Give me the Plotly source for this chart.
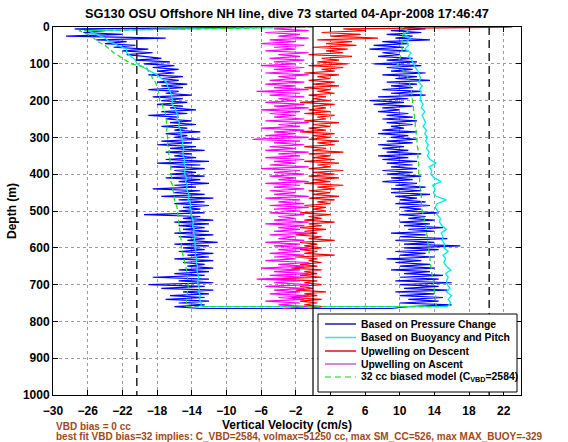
import plotly.graph_objects as go

# ---------------- data ----------------
DEPTH5 = list(range(0, 770, 5))     # 0..765 m, 154 samples
DEPTH10 = list(range(0, 770, 10))   # 0..760 m, 77 samples

BLUE_DIVE = [
    -2.0, -27.5, -24.0, -26.5, -22.0, -28.5, -17.0, -25.0, -21.5, -24.0,
    -20.5, -23.0, -19.0, -22.0, -18.5, -21.5, -19.5, -17.5, -20.5, -16.5,
    -19.5, -16.0, -18.5, -15.5, -18.0, -16.0, -19.0, -15.0, -17.5, -15.5,
    -18.0, -14.5, -17.5, -15.0, -19.0, -15.5, -17.0, -14.0, -18.5, -15.0,
    -17.5, -14.5, -18.0, -15.0, -16.5, -13.5, -17.5, -14.5, -19.0, -15.5,
    -17.0, -14.0, -16.5, -13.5, -17.5, -14.5, -16.0, -13.0, -17.0, -14.5,
    -16.0, -13.0, -17.5, -14.0, -18.0, -13.5, -16.5, -12.5, -17.0, -14.0,
    -16.0, -13.5, -17.0, -12.0, -18.0, -13.0, -16.5, -12.5, -16.0, -13.5,
    -16.5, -12.5, -17.0, -13.0, -15.5, -12.0, -16.0, -13.5, -18.5, -13.0,
    -16.0, -12.5, -17.5, -11.5, -15.5, -12.5, -16.0, -12.0, -15.0, -13.0,
    -15.5, -12.5, -19.5, -13.0, -15.0, -11.5, -16.0, -12.0, -15.5, -12.5,
    -15.0, -12.0, -16.0, -11.5, -15.5, -12.5, -14.5, -11.0, -16.0, -12.0,
    -15.0, -12.5, -15.5, -11.5, -14.5, -12.0, -16.0, -11.5, -15.0, -12.5,
    -14.5, -11.5, -15.5, -12.0, -16.0, -12.5, -18.5, -12.0, -15.5, -11.5,
    -19.0, -12.5, -17.5, -11.5, -15.0, -12.0, -16.5, -12.5, -17.0, -12.0,
    -15.5, -12.5, -16.0, -13.0,
]

BLUE_CLIMB = [
    10.5, 13.0, 9.0, 12.5, 8.5, 11.5, 9.5, 13.5, 8.0, 11.0,
    7.0, 10.5, 6.5, 11.0, 8.0, 10.0, 7.5, 11.5, 8.5, 12.0,
    7.0, 12.5, 8.5, 11.5, 9.0, 13.0, 8.0, 12.0, 9.5, 13.5,
    8.5, 12.0, 9.0, 11.5, 8.0, 12.5, 9.0, 13.0, 7.5, 11.0,
    6.5, 10.5, 7.0, 11.5, 8.0, 10.0, 7.5, 11.0, 8.5, 11.5,
    8.0, 12.0, 8.5, 11.5, 9.0, 10.5, 8.0, 12.0, 7.5, 11.0,
    9.0, 12.0, 8.5, 11.5, 7.5, 10.5, 8.0, 11.0, 8.5, 12.5,
    7.5, 11.0, 8.0, 12.0, 8.5, 11.5, 9.0, 12.0, 8.0, 11.5,
    8.5, 12.5, 9.0, 11.5, 8.0, 12.0, 9.5, 13.0, 9.0, 12.5,
    9.0, 13.5, 9.5, 12.0, 10.0, 13.0, 9.5, 13.5, 10.0, 12.5,
    10.5, 14.5, 10.0, 13.0, 11.0, 14.0, 10.0, 13.5, 10.5, 15.0,
    11.0, 14.0, 9.0, 13.0, 10.0, 15.5, 9.5, 14.0, 10.5, 17.0,
    10.5, 14.5, 9.5, 13.0, 10.0, 14.0, 8.5, 12.5, 9.5, 13.5,
    10.0, 14.0, 9.0, 13.5, 10.5, 15.0, 10.0, 14.5, 9.5, 16.0,
    10.0, 14.5, 10.5, 15.5, 9.5, 14.0, 10.0, 15.0, 11.0, 14.5,
    10.0, 16.0, 11.0, 9.0,
]

CYAN_DIVE = [
    0.0, -26.0, -25.0, -24.0, -23.5, -22.5, -21.5, -21.5, -21.0, -20.5,
    -20.3, -19.5, -18.8, -18.0, -17.5, -16.9, -16.8, -16.6, -16.4, -16.3,
    -16.2, -16.3, -15.9, -15.8, -15.6, -15.7, -15.4, -15.5, -15.3, -15.2,
    -15.2, -15.0, -15.1, -14.9, -15.0, -15.0, -14.8, -14.9, -14.7, -14.8,
    -14.8, -14.6, -14.7, -14.5, -14.6, -14.4, -14.3, -14.4, -14.1, -14.2,
    -14.0, -14.1, -13.9, -13.8, -13.9, -13.7, -13.8, -13.6, -13.7, -13.6,
    -13.6, -13.5, -13.6, -13.4, -13.5, -13.3, -13.4, -13.3, -13.2, -13.3,
    -13.3, -13.1, -13.2, -13.0, -13.1, -12.9, -12.9,
]

CYAN_CLIMB = [
    10.0, 11.0, 10.5, 11.2, 10.8, 11.0, 10.6, 11.3, 11.0, 11.4,
    11.6, 11.8, 12.1, 12.3, 12.4, 12.2, 12.6, 12.3, 12.5, 12.4,
    12.4, 12.7, 12.5, 12.9, 12.6, 12.8, 13.0, 12.7, 13.1, 12.9,
    13.2, 13.0, 13.3, 13.1, 13.4, 13.2, 13.5, 14.2, 13.4, 13.7,
    13.6, 14.0, 14.8, 13.8, 14.1, 13.9, 14.2, 15.4, 14.3, 14.1,
    14.4, 14.3, 14.7, 14.6, 14.9, 15.4, 14.8, 15.0, 14.9, 15.2,
    15.1, 15.6, 15.0, 15.3, 15.1, 15.4, 15.9, 15.3, 15.6, 15.4,
    15.5, 15.8, 15.4, 16.0, 15.6, 15.9, 15.5,
]

GREEN_DIVE = [
    0.0, -27.0, -26.0, -25.3, -24.8, -24.0, -23.5, -23.0, -22.3, -21.6,
    -21.0, -19.2, -19.0, -18.7, -18.5, -18.2, -18.0, -17.9, -17.8, -17.7,
    -17.7, -17.4, -17.3, -17.1, -17.0, -16.9, -16.9, -16.8, -16.9, -16.8,
    -16.8, -16.7, -16.8, -16.6, -16.6, -16.7, -16.5, -16.5, -16.4, -16.4,
    -16.4, -16.3, -16.4, -16.2, -16.2, -16.1, -16.0, -16.0, -15.8, -15.7,
    -15.6, -15.6, -15.5, -15.5, -15.4, -15.4, -15.3, -15.3, -15.2, -15.2,
    -15.2, -15.1, -15.0, -14.9, -14.8, -14.7, -14.6, -14.5, -14.5, -14.4,
    -14.4, -14.4, -14.5, -14.5, -14.6, -14.6, -14.6,
]

GREEN_CLIMB = [
    10.0, 10.5, 10.4, 10.3, 10.3, 10.2, 10.3, 10.2, 10.1, 9.9,
    9.7, 10.1, 10.5, 10.8, 11.0, 11.1, 11.2, 11.3, 11.4, 11.4,
    11.5, 11.5, 11.6, 11.6, 11.7, 11.7, 11.8, 11.8, 11.9, 11.9,
    12.0, 12.0, 12.0, 12.1, 12.1, 12.1, 12.1, 12.2, 12.2, 12.2,
    12.2, 12.3, 12.3, 12.3, 12.4, 12.4, 12.5, 12.5, 12.5, 12.6,
    12.6, 12.7, 12.8, 12.9, 13.0, 13.1, 13.1, 13.2, 13.2, 13.3,
    13.3, 13.4, 13.4, 13.5, 13.5, 13.6, 13.7, 13.7, 13.8, 13.9,
    13.9, 14.0, 14.0, 14.1, 14.1, 14.2, 14.2,
]

RED_DESCENT = [
    23.0, 3.5, 6.0, 1.0, 5.5, 2.0, 7.5, 0.5, 4.5, 1.5,
    5.0, 0.0, 4.0, 1.5, 3.5, -0.5, 4.5, 1.0, 3.0, 0.5,
    4.0, -0.5, 3.5, 1.0, 2.5, -1.0, 3.0, 0.5, 2.0, -0.5,
    2.5, 0.0, 3.0, -1.0, 2.0, 0.5, 2.5, -0.5, 1.5, 0.0,
    2.0, -1.5, 2.5, 0.0, 1.5, -0.5, 2.0, -1.0, 2.5, 0.5,
    1.5, -1.0, 3.0, 0.0, 2.0, -0.5, 1.5, -1.5, 2.5, 0.0,
    2.0, -0.5, 3.0, 0.5, 2.5, -1.0, 1.5, 0.0, 3.5, -0.5,
    2.0, 0.0, 2.5, -1.0, 3.0, 0.5, 2.0, -0.5, 3.5, 0.0,
    2.5, -0.5, 3.0, 0.0, 2.0, -1.0, 3.5, 0.5, 2.5, -0.5,
    2.0, 0.0, 3.0, -0.5, 2.5, 0.5, 2.0, -1.0, 1.5, 0.0,
    1.5, -1.5, 2.0, -0.5, 1.0, -1.0, 2.5, -0.5, 1.0, -1.5,
    1.5, -1.0, 0.5, -2.0, 1.0, -0.5, 2.5, -1.5, 0.5, -1.0,
    1.0, -1.5, 0.5, -1.0, 2.5, -2.0, 0.5, -0.5, 1.0, -1.5,
    0.5, -2.5, 1.0, -1.0, 0.5, -1.5, 1.0, -5.0, 0.5, -1.0,
    1.0, -1.5, 0.0, -2.0, 1.5, -1.0, 0.5, -2.5, 1.0, -1.5,
    0.5, -1.0, 1.0, -0.5,
]

MAGENTA_ASCENT = [
    -1.0, -4.5, -0.5, -5.5, -1.5, -4.0, -0.5, -5.0, -2.0, -6.0,
    -1.0, -4.5, -2.0, -5.5, -0.5, -4.0, -1.5, -5.0, -1.0, -4.5,
    -2.0, -6.0, -1.0, -4.5, -1.5, -5.5, -0.5, -4.0, -2.0, -5.0,
    -1.0, -5.5, -2.0, -4.5, -0.5, -6.5, -1.5, -5.0, -1.0, -4.0,
    -2.0, -5.5, -1.0, -4.5, -0.5, -6.0, -1.5, -5.0, -2.0, -4.5,
    -1.0, -5.5, -0.5, -4.0, -1.5, -6.0, -1.0, -4.5, -2.0, -5.5,
    -0.5, -7.0, -1.5, -4.5, -1.0, -5.0, -2.0, -5.5, -0.5, -4.0,
    -1.5, -5.5, -1.0, -4.5, -2.0, -5.0, -0.5, -6.0, -1.5, -4.5,
    -1.0, -5.0, -2.0, -4.0, -0.5, -5.5, -1.5, -4.5, -1.0, -5.0,
    -2.0, -4.5, -0.5, -5.5, -1.5, -4.0, -1.0, -5.0, -0.5, -4.5,
    -1.5, -5.0, -1.0, -4.0, -2.0, -4.5, -0.5, -5.5, -1.0, -4.0,
    -1.5, -4.5, -0.5, -5.0, -2.0, -4.0, -1.0, -5.5, -1.5, -4.5,
    -0.5, -4.0, -1.5, -5.0, -1.0, -4.5, -2.0, -5.5, -0.5, -4.0,
    -1.0, -6.0, -1.5, -4.5, -0.5, -5.0, -1.0, -6.5, -1.5, -4.5,
    -0.5, -5.5, -1.0, -4.5, -1.5, -5.0, -0.5, -4.0, -1.0, -5.5,
    -1.5, -4.0, -0.5, -3.5,
]

LIMIT_LINES = [-20.33, 20.33]     # dashed black reference lines
ZERO_LINE = 0.0
LINE_DEPTHS = [0, 1000]

X_TICKS = [-30, -26, -22, -18, -14, -10, -6, -2, 2, 6, 10, 14, 18, 22]
Y_TICKS = [0, 100, 200, 300, 400, 500, 600, 700, 800, 900, 1000]

NAMES = ["Based on Pressure Change", "Based on Buoyancy and Pitch",
         "Upwelling on Descent", "Upwelling on Ascent",
         "32 cc biased model (C<sub>VBD</sub>=2584)"]
COLORS = ["#0000ff", "#00e8e8", "#ff0000", "#ff00ff", "#22dd22"]
LEGEND_COLORS = ["#1c1ca8", "#40e0e0", "#e01010", "#c060d0", "#66dd66"]

TITLE = "SG130 OSU Offshore NH line, dive 73 started 04-Apr-2008 17:46:47"
NOTE1 = "VBD bias = 0 cc"
NOTE2 = "best fit VBD bias=32 implies: C_VBD=2584, volmax=51250 cc, max SM_CC=526, max MAX_BUOY=-329"

# ---------------- figure ----------------
FONT = "Liberation Sans, Arial, Helvetica, sans-serif"
W, H = 568, 442
L, R, T, B = 53, 521, 27, 395


def px_x(px):
    return (px - L) / (R - L)


def px_y(py):
    return (B - py) / (B - T)


fig = go.Figure()

fig.add_trace(go.Scatter(x=BLUE_DIVE + BLUE_CLIMB[::-1], y=DEPTH5 + DEPTH5[::-1],
                         mode="lines", name=NAMES[0],
                         line=dict(color=COLORS[0], width=1.2)))
fig.add_trace(go.Scatter(x=CYAN_DIVE + CYAN_CLIMB[::-1], y=DEPTH10 + DEPTH10[::-1],
                         mode="lines", name=NAMES[1],
                         line=dict(color=COLORS[1], width=1.3)))
fig.add_trace(go.Scatter(x=RED_DESCENT, y=DEPTH5, mode="lines", name=NAMES[2],
                         line=dict(color=COLORS[2], width=1.2)))
fig.add_trace(go.Scatter(x=MAGENTA_ASCENT[::-1], y=DEPTH5[::-1], mode="lines", name=NAMES[3],
                         line=dict(color=COLORS[3], width=1.2)))
fig.add_trace(go.Scatter(x=GREEN_DIVE + GREEN_CLIMB[::-1], y=DEPTH10 + DEPTH10[::-1],
                         mode="lines", name=NAMES[4],
                         line=dict(color=COLORS[4], width=1.3, dash="5px,3px")))

for v in LIMIT_LINES:
    fig.add_trace(go.Scatter(x=[v, v], y=LINE_DEPTHS, mode="lines",
                             line=dict(color="#222222", width=1.5, dash="8px,5px"),
                             hoverinfo="skip"))
fig.add_trace(go.Scatter(x=[ZERO_LINE, ZERO_LINE], y=LINE_DEPTHS, mode="lines",
                         line=dict(color="#000000", width=1.2),
                         hoverinfo="skip"))

for tr in fig.data:
    tr.showlegend = False

axis_common = dict(
    showline=True, linecolor="black", linewidth=1, mirror="allticks",
    ticks="inside", ticklen=5, tickcolor="black", tickwidth=1,
    showgrid=True, gridcolor="#9a9a9a", griddash="dot", gridwidth=1,
    zeroline=False, automargin=False,
    tickfont=dict(family=FONT, size=12, color="black", weight="bold"),
)

fig.update_layout(
    width=W, height=H,
    margin=dict(l=L, r=W - R, t=T, b=H - B, pad=0, autoexpand=False),
    paper_bgcolor="white", plot_bgcolor="white",
    showlegend=False,
    title=dict(text=TITLE, x=0.5, xref="paper", xanchor="center",
               y=1 - 14 / H, yref="container", yanchor="middle", automargin=False,
               font=dict(family=FONT, size=12.8, color="black", weight="bold")),
    xaxis=dict(range=[-30, 24], tickvals=X_TICKS, ticklabelstandoff=5,
               title=dict(text="Vertical Velocity (cm/s)", standoff=0,
                          font=dict(family=FONT, size=12, color="black", weight="bold")),
               **axis_common),
    yaxis=dict(range=[1000, 0], tickvals=Y_TICKS,
               title=dict(text="Depth (m)", standoff=3,
                          font=dict(family=FONT, size=12, color="black", weight="bold")),
               **axis_common),
)

# ---- legend drawn as a boxed key ----
shapes = [dict(type="rect", xref="paper", yref="paper",
               x0=px_x(318), x1=px_x(517), y0=px_y(392), y1=px_y(314),
               line=dict(color="black", width=1), fillcolor="white", layer="above")]
annots = []
rows = [324, 337.5, 351, 364, 377]
for i, (name, col) in enumerate(zip(NAMES, LEGEND_COLORS)):
    shapes.append(dict(type="line", xref="paper", yref="paper",
                       x0=px_x(325), x1=px_x(356), y0=px_y(rows[i]), y1=px_y(rows[i]),
                       line=dict(color=col, width=1.5,
                                 dash="6px,4px" if i == 4 else "solid"),
                       layer="above"))
    annots.append(dict(text=name, xref="paper", yref="paper",
                       x=px_x(359), y=px_y(rows[i]), xanchor="left", yanchor="middle",
                       showarrow=False,
                       font=dict(family=FONT, size=10.4, color="black", weight="bold")))

annots.append(dict(text=NOTE1, xref="paper", yref="paper",
                   x=px_x(54), y=px_y(426), xanchor="left", yanchor="middle",
                   showarrow=False,
                   font=dict(family=FONT, size=10, color="#a04a1a", weight="bold")))
annots.append(dict(text=NOTE2, xref="paper", yref="paper",
                   x=px_x(54), y=px_y(436.5), xanchor="left", yanchor="middle",
                   showarrow=False,
                   font=dict(family=FONT, size=10, color="#a04a1a", weight="bold")))

fig.update_layout(shapes=shapes, annotations=annots)

# remove the browser's default 8px page margin so the figure sits at (0, 0)
fig.write_html("out.html", config={"displayModeBar": False},
               post_script="document.body.style.margin='0';document.body.style.overflow='hidden';")
